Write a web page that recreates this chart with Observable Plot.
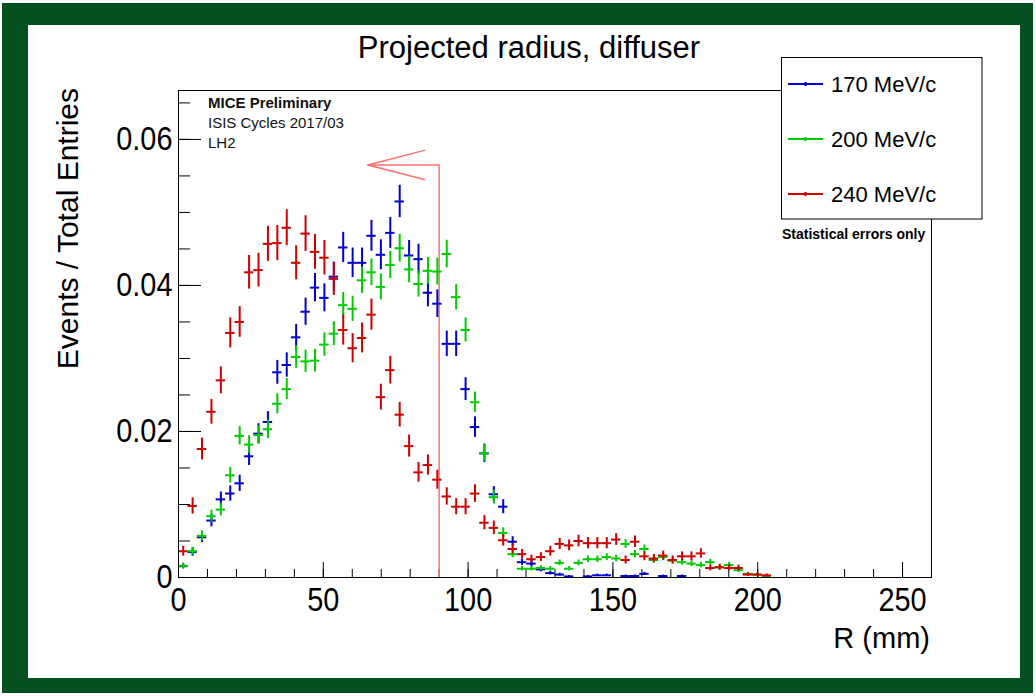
<!DOCTYPE html>
<html><head><meta charset="utf-8">
<script src="https://cdn.jsdelivr.net/npm/d3@7"></script>
<script src="https://cdn.jsdelivr.net/npm/@observablehq/plot@0.6"></script>
<style>
body{margin:0;background:#fff;font-family:"Liberation Sans",Arial,Helvetica,sans-serif;}
#canvas{position:relative;width:1036px;height:696px;overflow:hidden;}
.abs{position:absolute;}
</style></head><body>
<div id="canvas">
  <div class="abs" style="left:2px;top:3px;width:1031px;height:690px;background:#04501f"></div>
  <div class="abs" style="left:28px;top:25px;width:992px;height:653px;background:#fff"></div>
  <div id="chart" class="abs" style="left:0;top:0"></div>
  <svg id="overlay" class="abs" style="left:0;top:0" width="1036" height="696"></svg>
</div>
<script>
// ---- data ----
const binWidth = 3.25; // mm, histogram bins from 0
const series = ["170 MeV/c", "200 MeV/c", "240 MeV/c"];
const colors = ["#0000d0", "#00cc00", "#d00000"];
const entries = [10500, 12500, 7900]; // effective entries -> statistical errors
const p170 = [0.00155,0.0035,0.0055,0.0078,0.0107,0.0115,0.0129,0.0166,0.0197,0.0213,
  0.0281,0.0291,0.0329,0.0364,0.0397,0.0383,0.0412,0.0452,0.0431,0.0431,
  0.0468,0.0442,0.0472,0.0515,0.0441,0.0436,0.0390,0.0375,0.0320,0.0320,
  0.0258,0.0206,0.0170,0.0114,0.0097,0.0049,0.0021,0.0019,0.0011,0.0006,
  0.0004,0.00015,0,0.00015,0.0003,0.0003,0,0.0002,0.0002,0.0005,
  0,0.0002,0,0.0002,0,0,0,0,0,0,0,0,0];
const p200 = [0.0016,0.0036,0.0057,0.0084,0.0093,0.0140,0.0194,0.0182,0.0195,0.0203,
  0.0238,0.0258,0.0302,0.0296,0.0297,0.0319,0.0334,0.0373,0.0368,0.0407,
  0.0418,0.0398,0.0428,0.0451,0.0422,0.0402,0.0420,0.0419,0.0443,0.0384,
  0.0339,0.0240,0.0170,0.0110,0.0061,0.0032,0.0012,0.0012,0.0013,0.0012,
  0.0020,0.0012,0.0020,0.0025,0.0025,0.0028,0.0026,0.0046,0.0032,0.0039,
  0.0024,0.0028,0.0023,0.0021,0.0019,0.0017,0.0021,0.0014,0.0017,0.0010,
  0.0005,0.0004,0.0002];
const p240 = [0.0036,0.0098,0.0176,0.0227,0.0270,0.0335,0.0350,0.0418,0.0421,0.0457,
  0.0458,0.0479,0.0431,0.0471,0.0446,0.0438,0.0409,0.0339,0.0314,0.0328,
  0.0360,0.0247,0.0284,0.0223,0.0180,0.0144,0.0154,0.0134,0.0111,0.0097,
  0.0097,0.0115,0.0075,0.0068,0.0051,0.0039,0.0032,0.0025,0.0028,0.0036,
  0.0046,0.0044,0.0050,0.0047,0.0047,0.0047,0.0052,0.0024,0.0049,0.0029,
  0.0026,0.0030,0.0024,0.0029,0.0029,0.0033,0.0013,0.0014,0.0013,0.0013,
  0.0004,0.0004,0.0003];
const xMajorTicks = [0, 50, 100, 150, 200, 250];
const xMinorTicks = [0,10,20,30,40,50,60,70,80,90,100,110,120,130,140,150,160,170,180,190,200,210,220,230,240,250,260];
const yMajorTicks = [0, 0.02, 0.04, 0.06];
const yMinorTicks = [0,0.005,0.01,0.015,0.02,0.025,0.03,0.035,0.04,0.045,0.05,0.055,0.06,0.065];
const xDomain = [0, 260];
const yDomain = [0, 0.0667];
// cut marker (arrow) in data units
const cutR = 90, arrowTipR = 65.4, arrowY = 0.0565, arrowHeadR = 84.9, arrowHeadDy = 0.002;
const titleText = "Projected radius, diffuser";
const yTitle = "Events / Total Entries";
const xTitle = "R (mm)";
const notes = ["MICE Preliminary", "ISIS Cycles 2017/03", "LH2"];
const errNote = "Statistical errors only";

// ---- build table ----
const values = [p170, p200, p240];
const rows = [];
series.forEach((name, s) => values[s].forEach((v, i) => {
  if (v > 0) rows.push({series: name, r: binWidth * (i + 0.5), lo: binWidth * i, hi: binWidth * (i + 1), v, err: Math.sqrt(v / entries[s])});
}));

const W = 1036, H = 696, mL = 178, mR = 105, mT = 90, mB = 119;
const innerW = W - mL - mR, innerH = H - mT - mB;

const dataMarks = [];
series.forEach(name => {
  const d = rows.filter(r => r.series === name);
  dataMarks.push(Plot.ruleX(d, {x: "r", y1: q => q.v - q.err, y2: q => q.v + q.err, stroke: "series", strokeWidth: 2}));
  dataMarks.push(Plot.ruleY(d, {y: "v", x1: "lo", x2: "hi", stroke: "series", strokeWidth: 2}));
});

const arrowStem = [{r: cutR, y: 0}, {r: cutR, y: arrowY}, {r: arrowTipR, y: arrowY}];
const arrowHead = [{r: arrowHeadR, y: arrowY + arrowHeadDy}, {r: arrowTipR, y: arrowY}, {r: arrowHeadR, y: arrowY - arrowHeadDy}];

const chart = Plot.plot({
  width: W, height: H, marginLeft: mL, marginRight: mR, marginTop: mT, marginBottom: mB,
  style: {background: "transparent", fontFamily: "Liberation Sans, Arial, sans-serif", overflow: "visible"},
  x: {domain: xDomain},
  y: {domain: yDomain},
  color: {domain: series, range: colors},
  marks: [
    Plot.tickY(yMinorTicks, {y: d => d, insetRight: innerW - 12, stroke: "#000"}),
    Plot.tickY(yMajorTicks, {y: d => d, insetRight: innerW - 23, stroke: "#000"}),
    Plot.tickX(xMinorTicks, {x: d => d, insetTop: innerH - 8, stroke: "#000"}),
    Plot.tickX(xMajorTicks, {x: d => d, insetTop: innerH - 15, stroke: "#000"}),
    Plot.axisY({ticks: yMajorTicks, tickSize: 0, tickPadding: 6, fontSize: 34, label: null,
      tickFormat: d => d === 0 ? "0" : d.toFixed(2)}),
    Plot.axisX({ticks: xMajorTicks, tickSize: 0, tickPadding: 9, fontSize: 34, label: null}),
    Plot.line(arrowStem, {x: "r", y: "y", stroke: "#ff7070", strokeWidth: 1.5}),
    Plot.line(arrowHead, {x: "r", y: "y", stroke: "#ff7070", strokeWidth: 1.5}),
    ...dataMarks,
    Plot.frame({stroke: "#000"})
  ]
});
chart.querySelectorAll('g[aria-label$="tick label"] text').forEach(t => {
  const tr = t.getAttribute("transform");
  if (tr) t.setAttribute("transform", tr + " scale(0.85,1)");
});
document.getElementById("chart").appendChild(chart);

// ---- overlay texts & legend ----
const ov = d3.select("#overlay");
const ff = "Liberation Sans, Arial, sans-serif";
ov.append("text").attr("x", 529).attr("y", 58).attr("text-anchor", "middle")
  .attr("font-family", ff).attr("font-size", 31).text(titleText);
ov.append("text").attr("transform", "translate(78,88) rotate(-90)").attr("text-anchor", "end")
  .attr("font-family", ff).attr("font-size", 30).text(yTitle);
ov.append("text").attr("x", 930).attr("y", 648).attr("text-anchor", "end")
  .attr("font-family", ff).attr("font-size", 29).text(xTitle);
notes.forEach((t, i) => {
  ov.append("text").attr("x", 208).attr("y", 108 + i * 20)
    .attr("font-family", ff).attr("font-size", 15).attr("font-weight", i === 0 ? "bold" : "normal")
    .attr("fill", "#111").text(t);
});
ov.append("rect").attr("x", 781.5).attr("y", 57.5).attr("width", 200.5).attr("height", 161.5)
  .attr("fill", "#fff").attr("stroke", "#000");
series.forEach((name, i) => {
  const y = 84 + i * 55;
  ov.append("line").attr("x1", 788).attr("x2", 823).attr("y1", y).attr("y2", y)
    .attr("stroke", colors[i]).attr("stroke-width", 2);
  ov.append("circle").attr("cx", 805.5).attr("cy", y).attr("r", 2).attr("fill", colors[i]);
  ov.append("text").attr("x", 831).attr("y", y + 8).attr("font-family", ff).attr("font-size", 22).text(name);
});
ov.append("text").attr("x", 782).attr("y", 239).attr("font-family", ff).attr("font-size", 14)
  .attr("font-weight", "bold").text(errNote);
</script>
</body></html>
